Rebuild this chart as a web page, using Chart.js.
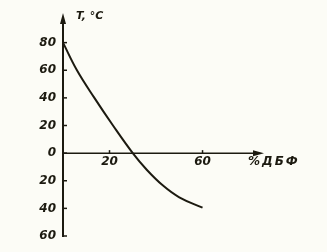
<!DOCTYPE html>
<html>
<head>
<meta charset="utf-8">
<script src="https://cdn.jsdelivr.net/npm/chart.js@4"></script>
<style>
  html, body { margin: 0; padding: 0; background: #fcfcf6; }
  #wrap { width: 327px; height: 252px; }
</style>
</head>
<body>
<div id="wrap"><canvas id="chart"></canvas></div>
<script>
// DBP content (%) and temperature (°C)
const xPct = [0, 6, 13.5, 21.5, 30, 36, 43, 50, 60];
const tempC = [80, 60, 40, 20, 0, -12, -23.5, -32, -39.5];

// tick labels
const yTicks = [80, 60, 40, 20, 0, -20, -40, -60];
const xTicks = [20, 60];

const ink = '#1c1a10';
const labelFont = 'italic bold 12px "DejaVu Sans"';

// axes drawn by hand through the chart's own scales
const crossAxes = {
    id: 'crossAxes',
    beforeDatasetsDraw(chart) {
        const ctx = chart.ctx;
        const xs = chart.scales.x;
        const ys = chart.scales.y;
        const x0 = xs.getPixelForValue(0);
        const y0 = ys.getPixelForValue(0);
        const top = chart.chartArea.top;
        const right = chart.chartArea.right;
        const bottom = ys.getPixelForValue(-60);

        ctx.save();
        ctx.strokeStyle = ink;
        ctx.fillStyle = ink;

        // y axis
        ctx.lineWidth = 2;
        ctx.beginPath();
        ctx.moveTo(x0, bottom + 1);
        ctx.lineTo(x0, top + 6);
        ctx.stroke();
        ctx.beginPath();
        ctx.moveTo(x0, top - 2);
        ctx.lineTo(x0 - 3, top + 9);
        ctx.lineTo(x0 + 3, top + 9);
        ctx.closePath();
        ctx.fill();

        // x axis
        ctx.lineWidth = 1.5;
        ctx.beginPath();
        ctx.moveTo(x0, y0);
        ctx.lineTo(right - 6, y0);
        ctx.stroke();
        ctx.beginPath();
        ctx.moveTo(right + 1, y0);
        ctx.lineTo(right - 10, y0 - 3);
        ctx.lineTo(right - 10, y0 + 3);
        ctx.closePath();
        ctx.fill();

        // y ticks and labels
        ctx.font = labelFont;
        ctx.textAlign = 'right';
        ctx.textBaseline = 'middle';
        ctx.lineWidth = 1.5;
        yTicks.forEach(v => {
            const py = ys.getPixelForValue(v);
            ctx.beginPath();
            ctx.moveTo(x0, py);
            ctx.lineTo(x0 + 4, py);
            ctx.stroke();
            ctx.fillText(String(Math.abs(v)), x0 - 7, py);
        });

        // x ticks and labels
        ctx.textAlign = 'center';
        ctx.textBaseline = 'top';
        xTicks.forEach(v => {
            const px = xs.getPixelForValue(v);
            ctx.beginPath();
            ctx.moveTo(px, y0);
            ctx.lineTo(px, y0 - 3);
            ctx.stroke();
            ctx.fillText(String(v), px, y0 + 3);
        });

        // axis titles
        ctx.font = 'italic bold 11px "DejaVu Sans"';
        ctx.textAlign = 'left';
        ctx.textBaseline = 'middle';
        ctx.fillText('T, °C', x0 + 13, top + 1);
        ctx.font = 'italic bold 12px "DejaVu Sans"';
        ctx.letterSpacing = '2px';
        ctx.fillText('%ДБФ', right - 15, y0 + 9);
        ctx.restore();
    }
};

new Chart(document.getElementById('chart'), {
    type: 'line',
    data: {
        datasets: [{
            data: xPct.map((x, i) => ({ x: x, y: tempC[i] })),
            borderColor: ink,
            borderWidth: 2,
            pointRadius: 0,
            tension: 0.4,
            fill: false
        }]
    },
    options: {
        responsive: true,
        maintainAspectRatio: false,
        animation: false,
        layout: {
            padding: { left: 63, top: 15, right: 64, bottom: 16 }
        },
        plugins: {
            legend: { display: false },
            tooltip: { enabled: false }
        },
        scales: {
            x: { type: 'linear', min: 0, max: 86, display: false },
            y: { type: 'linear', min: -60, max: 100, display: false }
        }
    },
    plugins: [crossAxes]
});
</script>
</body>
</html>
